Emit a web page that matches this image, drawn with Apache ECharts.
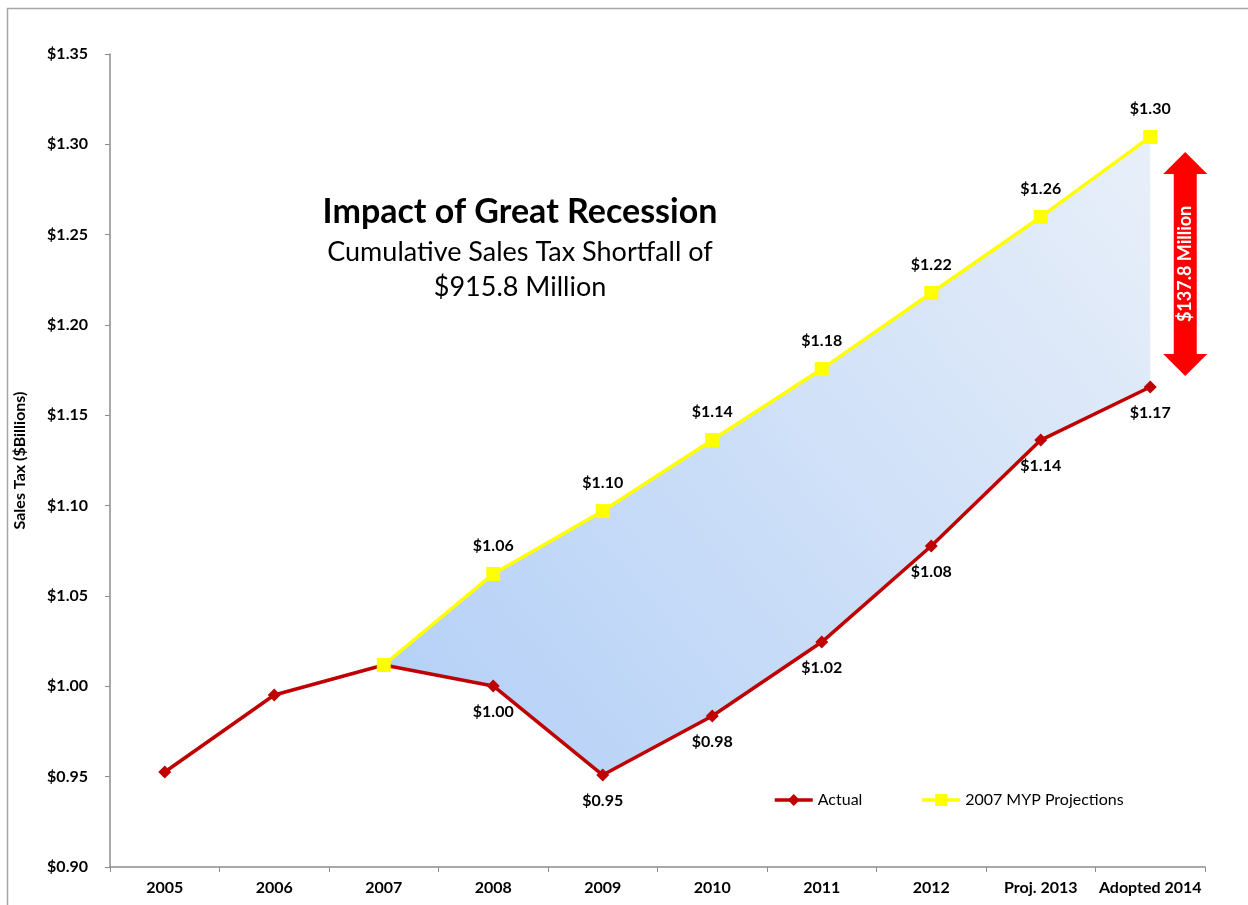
<!DOCTYPE html>
<html>
<head>
<meta charset="utf-8">
<script src="https://cdn.jsdelivr.net/npm/echarts@6/dist/echarts.min.js"></script>
<style>
  html, body { margin: 0; padding: 0; background: #fff; }
  #chart { width: 1248px; height: 905px; }
</style>
</head>
<body>
<div id="chart"></div>
<script>
// Fiscal years on the category axis
const years = ['2005', '2006', '2007', '2008', '2009', '2010', '2011', '2012', 'Proj. 2013', 'Adopted 2014'];
// Actual sales tax revenue ($ billions)
const actual = [0.9526, 0.9952, 1.0118, 1.0002, 0.9509, 0.9836, 1.0245, 1.0777, 1.1363, 1.1657];
// 2007 multi-year plan projections ($ billions), starting in 2007
const projected = [null, null, 1.0118, 1.0622, 1.0970, 1.1363, 1.1756, 1.2177, 1.2598, 1.3041];
// Y axis tick range
const yMin = 0.90, yMax = 1.35, yStep = 0.05;
const gapText = '$137.8 Million';

const FONT = 'Lato, "Open Sans", sans-serif';

// Band between the two lines: invisible base (actual) + stacked gap (projected - actual)
const bandBase = projected.map((p, i) => p == null ? null : actual[i]);
const bandGap = projected.map((p, i) => p == null ? null : +(p - actual[i]).toFixed(4));

const money = v => '$' + v.toFixed(2);

const chart = echarts.init(document.getElementById('chart'));

const option = {
  backgroundColor: '#ffffff',
  animation: false,
  textStyle: { fontFamily: FONT },
  title: {
    left: 515, top: 190, textAlign: 'center',
    text: 'Impact of Great Recession',
    textStyle: { fontFamily: FONT, fontSize: 34, fontWeight: 'bold', color: '#000' },
    subtext: 'Cumulative Sales Tax Shortfall of\n$915.8 Million',
    subtextStyle: { fontFamily: FONT, fontSize: 27, color: '#000', lineHeight: 35, align: 'center' },
    itemGap: 6
  },
  legend: {
    left: 768, top: 787,
    itemGap: 58, itemWidth: 38, itemHeight: 15,
    textStyle: { fontFamily: FONT, fontSize: 16, color: '#000' },
    data: [
      { name: 'Actual', lineStyle: { width: 3.5 } },
      { name: '2007 MYP Projections', lineStyle: { width: 3.5 } }
    ]
  },
  grid: { left: 110, right: 43, top: 54, bottom: 38 },
  xAxis: {
    type: 'category',
    data: years,
    boundaryGap: true,
    axisLine: { lineStyle: { color: '#8c8c8c', width: 1.5 } },
    axisTick: { show: true, length: 5, alignWithLabel: false, lineStyle: { color: '#8c8c8c' } },
    axisLabel: { fontFamily: FONT, fontSize: 16, fontWeight: 'bold', color: '#000', margin: 13, interval: 0 }
  },
  yAxis: {
    type: 'value',
    min: yMin, max: yMax, interval: yStep,
    name: 'Sales Tax ($Billions)',
    nameLocation: 'middle',
    nameGap: 82,
    nameRotate: 90,
    nameTextStyle: { fontFamily: FONT, fontSize: 16, fontWeight: 'bold', color: '#000' },
    axisLine: { show: true, lineStyle: { color: '#8c8c8c', width: 1.5 } },
    axisTick: { show: true, length: 5, lineStyle: { color: '#8c8c8c' } },
    splitLine: { show: false },
    axisLabel: { fontFamily: FONT, fontSize: 16, fontWeight: 'bold', color: '#000', margin: 22,
      formatter: v => money(v) }
  },
  series: [
    {
      name: 'base', type: 'line', stack: 'band', data: bandBase,
      symbol: 'none', lineStyle: { opacity: 0 }, silent: true, z: 1
    },
    {
      name: 'gap', type: 'line', stack: 'band', data: bandGap,
      symbol: 'none', lineStyle: { opacity: 0 }, silent: true, z: 1,
      areaStyle: {
        opacity: 1,
        color: new echarts.graphic.LinearGradient(0, 1, 1, 0, [
          { offset: 0, color: '#b2cff7' },
          { offset: 1, color: '#e8eff9' }
        ])
      }
    },
    {
      name: 'Actual', type: 'line', data: actual,
      color: '#c00000',
      symbol: 'diamond', symbolSize: 13,
      lineStyle: { color: '#c00000', width: 3.5 },
      itemStyle: { color: '#c00000' },
      z: 3,
      label: {
        show: true, position: 'bottom', distance: 11,
        fontFamily: FONT, fontSize: 16, fontWeight: 'bold', color: '#000',
        formatter: p => p.dataIndex >= 3 ? money(p.value) : ''
      }
    },
    {
      name: '2007 MYP Projections', type: 'line', data: projected,
      color: '#ffff00',
      symbol: 'rect', symbolSize: 14,
      lineStyle: { color: '#ffff00', width: 3.5 },
      itemStyle: { color: '#ffff00' },
      z: 4,
      label: {
        show: true, position: 'top', distance: 13,
        fontFamily: FONT, fontSize: 16, fontWeight: 'bold', color: '#000',
        formatter: p => p.dataIndex >= 3 ? money(p.value) : ''
      }
    }
  ]
};

chart.setOption(option);

// Frame around the chart area plus the red double arrow showing the 2014 gap
const last = years.length - 1;
const topPt = chart.convertToPixel({ xAxisIndex: 0, yAxisIndex: 0 }, [last, projected[last]]);
const botPt = chart.convertToPixel({ xAxisIndex: 0, yAxisIndex: 0 }, [last, actual[last]]);
const cx = topPt[0] + 35;
const y1 = topPt[1] + 15, y2 = botPt[1] - 11;
const headH = 22, headW = 22, shaftW = 11.5;
const arrow = [
  [cx, y1], [cx + headW, y1 + headH], [cx + shaftW, y1 + headH],
  [cx + shaftW, y2 - headH], [cx + headW, y2 - headH], [cx, y2],
  [cx - headW, y2 - headH], [cx - shaftW, y2 - headH],
  [cx - shaftW, y1 + headH], [cx - headW, y1 + headH]
];

chart.setOption({
  graphic: [
    {
      type: 'rect', silent: true, z: -1,
      shape: { x: 7.5, y: 8.5, width: 1300, height: 1000 },
      style: { fill: 'none', stroke: '#a6a6a6', lineWidth: 1.5 }
    },
    {
      type: 'polygon', silent: true, z: 10,
      shape: { points: arrow },
      style: { fill: '#ff0000' }
    },
    {
      type: 'text', silent: true, z: 11,
      x: cx, y: (y1 + y2) / 2, rotation: Math.PI / 2,
      style: {
        text: gapText, fill: '#ffffff',
        font: 'bold 18px ' + FONT,
        textAlign: 'center', textVerticalAlign: 'middle'
      }
    }
  ]
});
</script>
</body>
</html>
